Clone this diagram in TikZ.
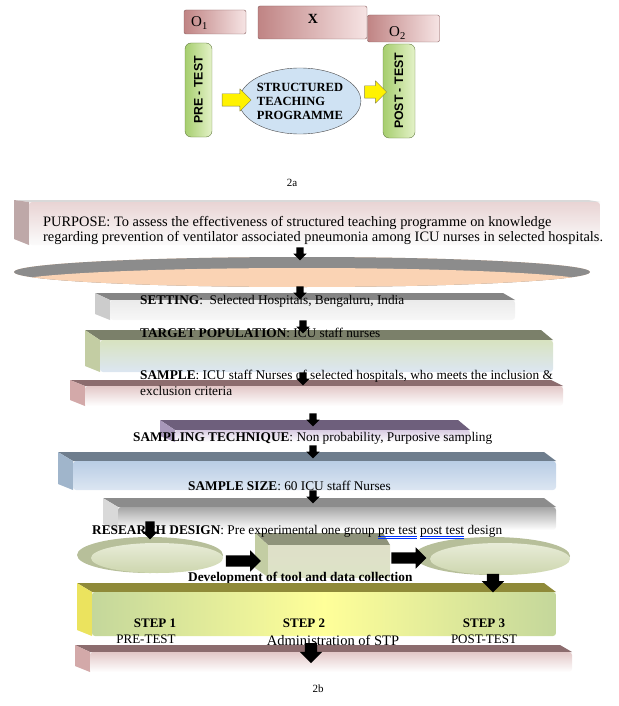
\documentclass[tikz,border=0pt]{standalone}
\usepackage{fontspec}
\setmainfont{Liberation Serif}
\setsansfont{Liberation Sans}
\usetikzlibrary{shapes.geometric,shapes.arrows}

\definecolor{rosedk}{HTML}{C08484}
\definecolor{roselt}{HTML}{F6E4E4}
\definecolor{grndk}{HTML}{A6CE6E}
\definecolor{grnlt}{HTML}{E4F2C8}
\definecolor{skyblue}{HTML}{CFE2F3}
\definecolor{stepgrn}{HTML}{C4D79B}
\definecolor{stepyel}{HTML}{FFFF99}
\definecolor{diskrim}{HTML}{B7BF9A}
\definecolor{disktop}{HTML}{E8ECD8}
\definecolor{diskbot}{HTML}{CDD6AE}
\definecolor{peach}{HTML}{FAD3B4}
\definecolor{olivetop}{HTML}{7B806A}
\definecolor{oliveside}{HTML}{C3CDA3}
\definecolor{olivefront}{HTML}{D8E3C0}
\definecolor{paleblue}{HTML}{DCE6F2}
\definecolor{slatetop}{HTML}{6E7D8D}
\definecolor{slateside}{HTML}{A0B5CB}
\definecolor{slatefront}{HTML}{B9CDE5}
\definecolor{plumtop}{HTML}{6E5F7C}
\definecolor{plumside}{HTML}{A898BA}
\definecolor{plumfront}{HTML}{D9CCE3}
\definecolor{mauvetop}{HTML}{8C6C6E}
\definecolor{boxtop}{HTML}{8F937B}
\definecolor{boxfront}{HTML}{DEDFC8}

% one 3-d bar: x0, x1, y top, y front, y bottom, top face, side face, front shading
\newcommand{\slabbar}[8]{%
  \fill[#6] (#1,#3) -- (#2-12,#3) -- (#2,#4) -- (#1+15,#4) -- cycle;
  \fill[#7] (#1,#3) -- (#1+15,#4) -- (#1+15,#5) -- (#1,#5-6) -- cycle;
  \shade[#8, rounded corners=3pt] (#1+15,#4) rectangle (#2,#5);
}
\newcommand{\dul}[1]{\setbox0\hbox{#1}%
  \rlap{\textcolor{blue!80!cyan}{\rule[-2pt]{\wd0}{0.7pt}}}%
  \rlap{\textcolor{blue!80!cyan}{\rule[-3.8pt]{\wd0}{0.5pt}}}#1}

\begin{document}
\begin{tikzpicture}[x=1pt, y=-1pt, font=\fontsize{13.3}{16}\selectfont, line join=round,
    txt/.style={anchor=west, inner sep=0pt},
    obox/.style={draw=rosedk!70!black, line width=0.4pt, rounded corners=2pt, left color=rosedk, right color=roselt},
    testbox/.style={draw=grndk!60!black, line width=0.4pt, rounded corners=6pt, left color=grndk, right color=grnlt, minimum width=27pt, minimum height=94pt},
    yarrow/.style={single arrow, draw=yellow!45!black, line width=0.4pt, fill=yellow, minimum height=29pt, minimum width=22pt, single arrow head extend=5pt, inner sep=6pt},
    dnarrow/.style={single arrow, draw=none, fill=black, shape border rotate=270, minimum height=13pt, minimum width=13pt, single arrow head extend=3pt, inner sep=3.5pt},
    rtarrow/.style={single arrow, draw=none, fill=black, minimum height=35pt, minimum width=21pt, single arrow head extend=5pt, inner sep=5.5pt}]
\useasboundingbox (0,0) rectangle (618,706);

% 2a
\node[obox, minimum width=62pt, minimum height=24pt] (o1) at (215,22) {};
\node[txt, font=\fontsize{15}{15}\selectfont] (o1t) at (191,23) {O\textsubscript{1}};
\node[obox, minimum width=109pt, minimum height=33pt] (x) at (312.5,22.5) {};
\node[font=\bfseries\fontsize{14}{14}\selectfont, inner sep=0pt] (xt) at (313,19) {X};
\node[obox, minimum width=72pt, minimum height=27pt] (o2) at (403.5,28.5) {};
\node[txt, font=\fontsize{15}{15}\selectfont] (o2t) at (389,33) {O\textsubscript{2}};

\node[testbox] (pre) at (198.5,90) {};
\node[rotate=90, font=\sffamily\bfseries\fontsize{12.3}{12.3}\selectfont] (pret) at (pre) {PRE - TEST};
\node[ellipse, draw=black!70, fill=skyblue, minimum width=106pt, minimum height=66pt, inner sep=0pt,
  align=left, font=\bfseries\fontsize{12.5}{14}\selectfont] (stp) at (300,101) {STRUCTURED\\TEACHING\\PROGRAMME};
\node[testbox, minimum width=32pt] (post) at (399,91) {};
\node[rotate=90, font=\sffamily\bfseries\fontsize{12.3}{12.3}\selectfont] (postt) at (post) {POST - TEST};
\node[yarrow] (y1) at (233.5,100) {};
\node[yarrow, minimum height=22pt] (y2) at (372.5,92) {};
\node[font=\fontsize{11}{11}\selectfont] (cap1) at (292,183) {2a};

% 2b
\slabbar{14}{600}{200}{202}{245}{black!15}{rosedk!55!gray!70}{top color=rosedk!35, bottom color=white!97!gray}
\node[txt, anchor=north west, align=left, font=\fontsize{14.4}{15}\selectfont] (purpose) at (43,216) {PURPOSE: To assess the effectiveness of structured teaching programme on knowledge\\regarding prevention of ventilator associated pneumonia among ICU nurses in selected hospitals.};

\fill[peach] (302,272) ellipse [x radius=288, y radius=15];
\begin{scope}
  \clip (302,272) ellipse [x radius=288, y radius=15];
  \fill[black!45] (14,250) rectangle (590,290);
  \shade[left color=peach, middle color=black!6, right color=peach] (302,283) ellipse [x radius=292, y radius=15];
\end{scope}

\slabbar{95}{515}{293}{300}{320}{black!48}{black!20}{top color=black!8, bottom color=black!3}
\slabbar{85}{553}{330}{340}{372}{olivetop}{oliveside}{top color=olivefront, bottom color=paleblue}
\slabbar{70}{563}{380}{386}{406}{mauvetop}{rosedk!70}{top color=rosedk!45, bottom color=white}
\slabbar{160}{470}{420}{430}{442}{plumtop}{plumside}{top color=plumfront, bottom color=white}
\slabbar{58}{556}{452}{461}{490}{slatetop}{slateside}{top color=slatefront, bottom color=paleblue}
\slabbar{103}{556}{498}{507}{530}{black!45}{black!15}{top color=black!35, bottom color=white}

\node[txt] (setting) at (140,301) {\textbf{SETTING}:\ \ Selected Hospitals, Bengaluru, India};
\node[txt] (target) at (140,333) {\textbf{TARGET POPULATION}: ICU staff nurses};
\node[txt, anchor=north west, align=left] (sample) at (140,370) {\textbf{SAMPLE}: ICU staff Nurses of selected hospitals, who meets the inclusion \&\\exclusion criteria};
\node[txt] (technique) at (133,438) {\textbf{SAMPLING TECHNIQUE}: Non probability, Purposive sampling};
\node[txt] (size) at (188,486) {\textbf{SAMPLE SIZE}: 60 ICU staff Nurses};

% design row
\fill[diskrim] (150,555) ellipse [x radius=73, y radius=18];
\shade[top color=disktop, bottom color=diskbot] (157,558) ellipse [x radius=66, y radius=15];
\fill[boxtop] (255,533) -- (383,533) -- (390,545) -- (268,545) -- cycle;
\fill[oliveside] (255,533) -- (268,545) -- (268,577) -- (255,568) -- cycle;
\shade[top color=boxfront, bottom color=disktop!60!diskbot] (268,545) rectangle (390,577);
\fill[diskrim] (492,556) ellipse [x radius=78, y radius=19];
\shade[top color=disktop, bottom color=diskbot] (500,559) ellipse [x radius=70, y radius=16];

\node[txt] (design) at (92,532) {\textbf{RESEARCH DESIGN}: Pre experimental one group \dul{pre test} \dul{post test} design};
\node[txt, font=\bfseries\fontsize{13.3}{16}\selectfont] (devt) at (188,578) {Development of tool and data collection};

\slabbar{77}{556}{583}{592}{636}{olive!60!gray}{yellow!70!olive!60}{left color=stepgrn, right color=stepgrn, middle color=stepyel}
\slabbar{75}{572}{645}{652}{672}{mauvetop}{rosedk!70}{top color=rosedk!45, bottom color=white}

\node[font=\bfseries\fontsize{13}{13}\selectfont] (s1) at (155,623) {STEP 1};
\node[font=\fontsize{13}{13}\selectfont] (s1t) at (146,639) {PRE-TEST};
\node[font=\bfseries\fontsize{13}{13}\selectfont] (s2) at (304,623) {STEP 2};
\node[font=\fontsize{14.5}{15}\selectfont] (s2t) at (333,640) {Administration of STP};
\node[font=\bfseries\fontsize{13}{13}\selectfont] (s3) at (484,623) {STEP 3};
\node[font=\fontsize{13}{13}\selectfont] (s3t) at (484,639) {POST-TEST};

% arrows
\node[dnarrow] (a1) at (300,252) {};
\node[dnarrow] (a2) at (300,291) {};
\node[dnarrow] (a3) at (303,325) {};
\node[dnarrow] (a4) at (303,377) {};
\node[dnarrow] (a5) at (313,418) {};
\node[dnarrow] (a6) at (313,450) {};
\node[dnarrow] (a7) at (313,495) {};
\node[dnarrow, minimum height=18pt, minimum width=15pt, inner sep=4.5pt] (a8) at (150,528) {};
\node[rtarrow] (r1) at (240.5,561) {};
\node[rtarrow] (r2) at (406,558) {};
\node[dnarrow, minimum height=17pt, minimum width=22pt, single arrow head extend=5pt, inner sep=6pt] (a9) at (493,580) {};
\node[dnarrow, minimum height=20pt, minimum width=22pt, single arrow head extend=5pt, inner sep=6pt] (a10) at (311,650) {};

\node[font=\fontsize{11}{11}\selectfont] (cap2) at (318,689) {2b};
\end{tikzpicture}
\end{document}
